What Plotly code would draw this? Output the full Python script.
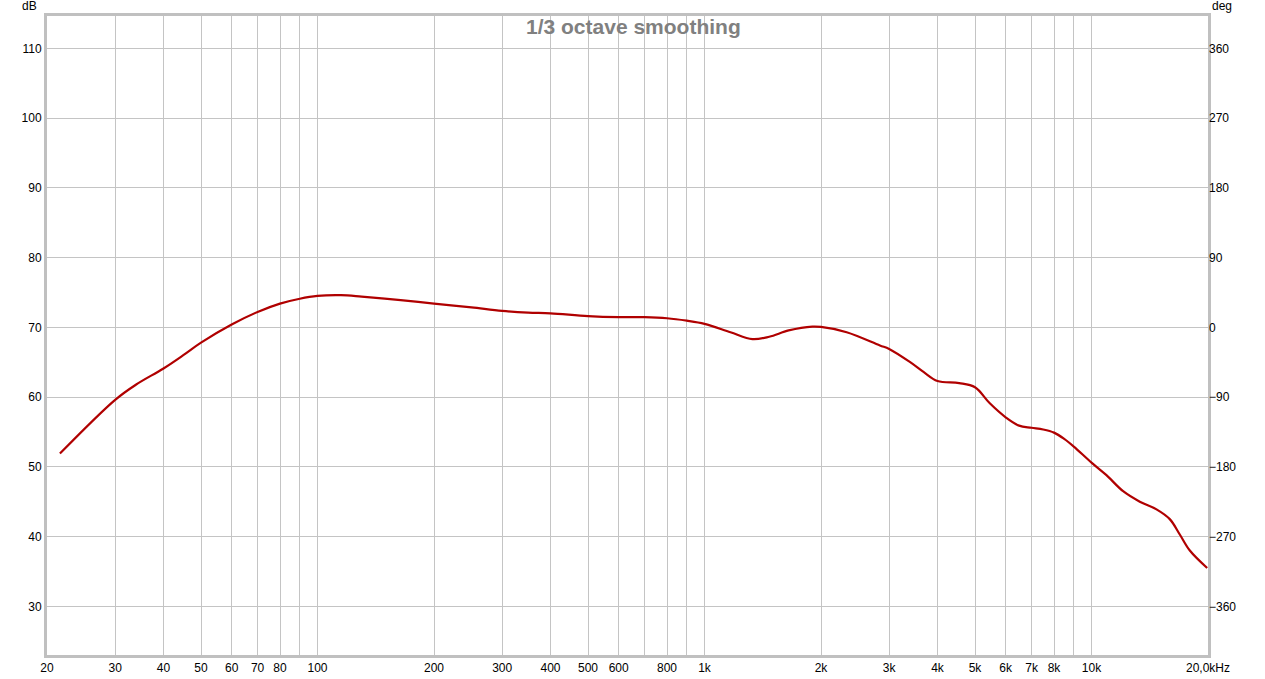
import math
import plotly.graph_objects as go

# ---- data ----
freq_hz = [21.6, 30, 34, 40, 45, 50, 60, 70, 80, 90, 100, 115, 130, 164,
           200, 250, 300, 350, 400, 500, 600, 700, 800, 900, 1000, 1167, 1330, 1470, 1650,
           1900, 2000, 2330, 2840, 3000, 3400, 3680, 4000, 4550, 5000, 5460, 6000,
           6500, 7000, 7500, 8000, 8500, 9000, 10000, 10930, 12070, 13330, 14720, 15930,
           16910, 17950, 19900]
spl_db = [51.9, 59.6, 61.8, 64.1, 66.0, 67.8, 70.4, 72.2, 73.4, 74.1, 74.5,
          74.6, 74.4, 73.9, 73.4, 72.85, 72.35, 72.1, 72.0, 71.6, 71.45, 71.45, 71.3,
          70.95, 70.5, 69.3, 68.3, 68.65, 69.55, 70.1, 70.05, 69.3, 67.4, 66.9, 65.0,
          63.6, 62.3, 62.0, 61.4, 59.1, 57.1, 55.9, 55.6, 55.35, 54.9, 54.0, 52.9,
          50.6, 48.8, 46.5, 45.0, 43.9, 42.5, 40.3, 38.0, 35.5]

grid_hz = [20, 30, 40, 50, 60, 70, 80, 90, 100, 200, 300, 400, 500, 600, 700, 800, 900,
           1000, 2000, 3000, 4000, 5000, 6000, 7000, 8000, 9000, 10000, 20000]
grid_text = ["20", "30", "40", "50", "60", "70", "80", "", "100", "200", "300", "400",
             "500", "600", "", "800", "", "1k", "2k", "3k", "4k", "5k", "6k", "7k", "8k",
             "", "10k", "20,0kHz"]
decade_hz = [100, 1000, 10000]
db_ticks = [30, 40, 50, 60, 70, 80, 90, 100, 110]
deg_ticks = [-360, -270, -180, -90, 0, 90, 180, 270, 360]

db_range = [23.02, 114.63]
deg_range = [(v - 70) * 9 for v in db_range]

FONT = "Liberation Sans, Arial, sans-serif"

fig = go.Figure()
fig.add_trace(go.Scatter(x=freq_hz, y=spl_db, mode="lines",
                         line=dict(color="#B00000", width=2.2, shape="spline", smoothing=1.0),
                         hoverinfo="skip", showlegend=False))

for f in decade_hz:
    fig.add_shape(type="line", xref="x", yref="paper", x0=f, x1=f, y0=0, y1=1,
                  line=dict(color="#808080", width=1), layer="below")

fig.update_layout(
    width=1265, height=679,
    margin=dict(l=47, r=57, t=16, b=24),
    paper_bgcolor="white", plot_bgcolor="white",
    font=dict(family=FONT, size=12, color="#000000"),
    xaxis=dict(type="log", range=[math.log10(20), math.log10(20000)],
               tickmode="array", tickvals=grid_hz, ticktext=grid_text,
               showgrid=True, gridcolor="#C4C4C4", gridwidth=1,
               showline=True, linecolor="#C0C0C0", linewidth=3, mirror=True,
               ticks="", zeroline=False, tickfont=dict(size=12), automargin=False),
    yaxis=dict(range=db_range, tickmode="array", tickvals=db_ticks,
               showgrid=True, gridcolor="#C4C4C4", gridwidth=1,
               showline=True, linecolor="#C0C0C0", linewidth=3, mirror=True,
               ticks="", zeroline=False, tickfont=dict(size=12), automargin=False),
    yaxis2=dict(range=deg_range, overlaying="y", side="right", tickmode="array",
                tickvals=deg_ticks, showgrid=False, zeroline=False, ticks="",
                tickfont=dict(size=12), automargin=False),
    annotations=[
        dict(text="1/3 octave smoothing", xref="paper", yref="paper", x=0.505, y=1,
             yshift=3, xanchor="center", yanchor="top", showarrow=False,
             font=dict(family=FONT, size=21, color="#808080", weight="bold")),
        dict(text="dB", xref="paper", yref="paper", x=0, y=1, xshift=-8, yshift=10,
             xanchor="right", yanchor="middle", showarrow=False, font=dict(size=12)),
        dict(text="deg", xref="paper", yref="paper", x=1, y=1, xshift=2, yshift=10,
             xanchor="left", yanchor="middle", showarrow=False, font=dict(size=12)),
    ],
)
# invisible trace to anchor right axis
fig.add_trace(go.Scatter(x=[freq_hz[0]], y=[0], yaxis="y2", mode="markers",
                         marker=dict(opacity=0), hoverinfo="skip", showlegend=False))

fig.write_html("out.html", config={"displayModeBar": False},
               post_script="document.body.style.margin='0';")
